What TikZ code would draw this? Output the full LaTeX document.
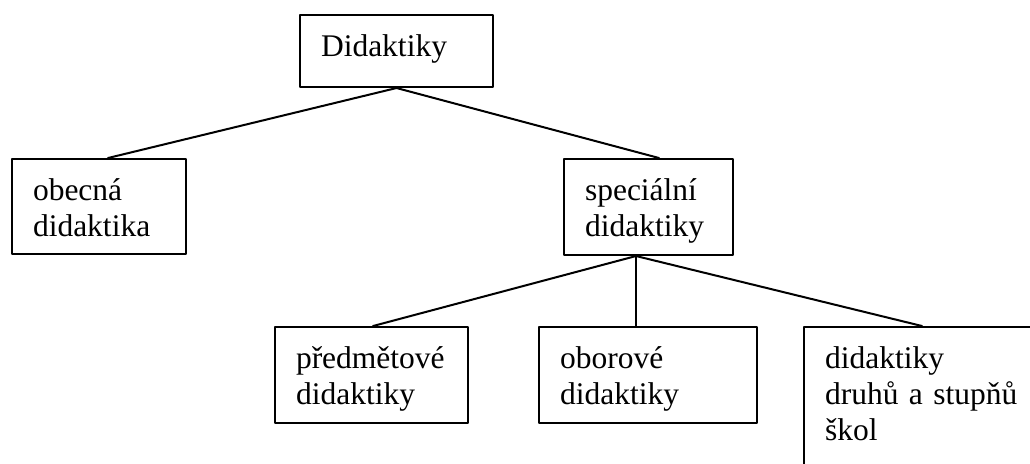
\documentclass[tikz,border=0pt]{standalone}
\usepackage{fontspec}
\setmainfont{Liberation Serif}

\begin{document}
\begin{tikzpicture}[line cap=round,line join=round,x=0.4pt,y=-0.4pt,
    kastik/.style={draw,line width=0.8pt,anchor=north west,align=left,
      inner xsep=8.4pt,inner ysep=0pt,text height=16.4pt,text depth=22pt,
      font=\fontsize{12.6pt}{14.5pt}\selectfont},
    cara/.style={line width=0.8pt}]
  \useasboundingbox (0,0) rectangle (1030,463);
  \clip (0,0) rectangle (1030,463);
  % horni uroven
  \node[kastik,text width=60.4pt,text depth=12.4pt] (didaktiky) at (299,14) {Didaktiky};
  \node[kastik,text width=52.8pt,text depth=21.6pt] (obecna) at (11,158) {obecná\\didaktika};
  \node[kastik,text width=50.8pt] (specialni) at (563,158) {speciální\\didaktiky};
  % dolni uroven
  \node[kastik,text width=60.4pt] (predmetove) at (274,326) {předmětové\\didaktiky};
  \node[kastik,text width=70.4pt] (oborove) at (538,326) {oborové\\didaktiky};
  \node[kastik,text width=79.2pt,text depth=43.6pt] (skoly) at (803,326) {didaktiky\\druhů a stupňů\\škol};
  % spojnice
  \draw[cara] (didaktiky.south) -- ([xshift=3.6pt]obecna.north);
  \draw[cara] (didaktiky.south) -- ([xshift=4.2pt]specialni.north);
  \coordinate (vetev) at ([xshift=-5pt]specialni.south);
  \draw[cara] (vetev) -- ([xshift=0.6pt]predmetove.north);
  \draw[cara] (vetev) -- (vetev |- oborove.north);
  \draw[cara] (vetev) -- ([xshift=47.6pt]skoly.north west);
\end{tikzpicture}
\end{document}
